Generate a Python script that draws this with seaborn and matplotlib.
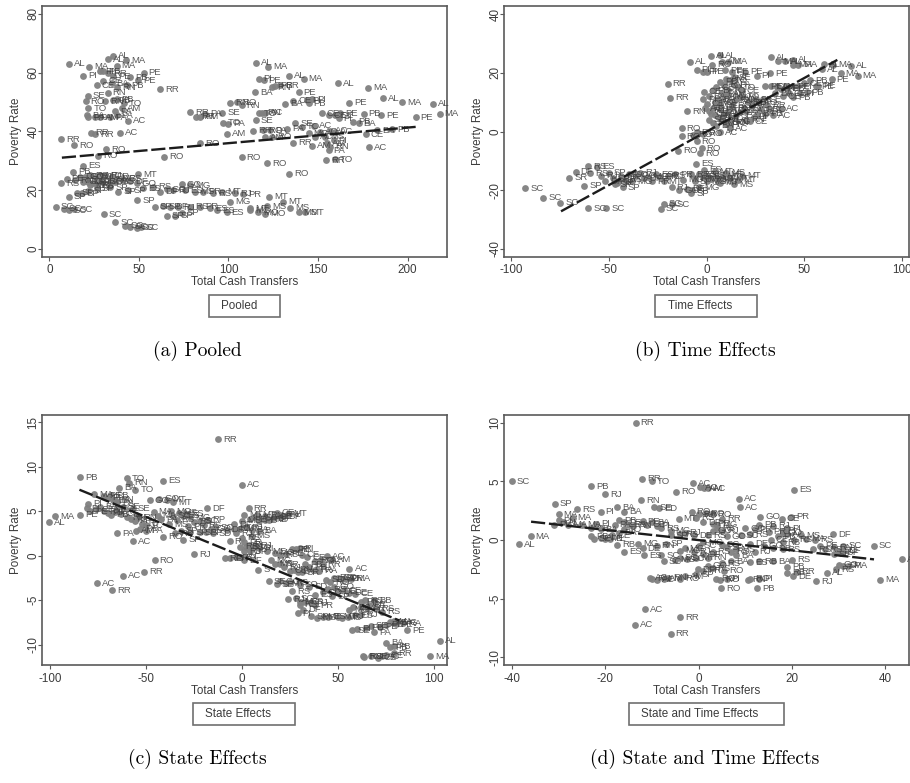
import matplotlib
import matplotlib.pyplot as plt
from matplotlib.patches import Rectangle
import seaborn as sns
import pandas as pd
# don't let matplotlib use xwindows
matplotlib.use('Agg')

sns.set_theme(style="ticks")
plt.rcParams['font.family'] = ['Liberation Sans', 'DejaVu Sans']

W, H = 910, 783
GREY = '#808080'
INK = '#3c3c3c'
FRAME = '#5a5a5a'

# (a) pooled
a_labels = """AL MA AL AL MA MA PI PI PB RR PE PE PB PE CE BA CE PB RR RN
SE RN RO RN PB PB TO TO PA AM BA PA PA AM PA PA AC RR RR AC
RR RO RO RO AL MA PI PE RN PB RR AL MA AL MA BA PE BA CE PI
PI PB PE AL MA AL MA PE PE PB RN RN RO RR RR AM PA SE TO PA
AM AC TO RN SE CE CE CE PI PE PB BA RR RO PA AM RO RR SE PA
TO AC MG AC AM AC MS AM PA RN AC PI AC CE AC BA PB RR TO RO
RO RO RO RO ES PB PE RS MT RN DF GO RS RJ MT RJ PR MG RS DF
GO DF RJ PR GO RS MG RS GO MS SP SP SP SP SP SP SP SP SP SP
SP ES RS DF GO RJ GO MG ES MS PR RS MT RJ PR MT MT MT MS MS
MS MT MO MO MG MG ES ES ES PR RS RJ DF SP SP SP SC SC SC SC
SC SC SC SC SC SC""".split()
a_x = [11, 22, 33, 35.8, 43, 37.6, 18.8, 28.3, 30, 33, 52.7, 49.7, 45, 35.8, 26.4, 34.8, 30.2, 43.2, 61.8, 32.6,
       21.4, 38, 20.3, 31, 35.8, 37.6, 41.7, 21.8, 36.7, 40.4, 21.2, 21.8, 25.5, 28.3, 33.9, 37.6, 44.1, 23, 25.5, 39.5,
       6.7, 14, 31.5, 27.4, 115.3, 122.3, 116.8, 119.6, 124.2, 126, 128.9, 134, 141.9, 161.3, 177.8, 114.9, 139.1, 131.7, 136.3, 143.8,
       146.5, 144.7, 167.4, 186, 196.8, 214.2, 217.9, 204.5, 185.3, 175.4, 100.9, 107.4, 105, 78.6, 81.8, 84.2, 87, 96.6, 96.8, 100,
       99, 120.5, 116.8, 118.7, 115.3, 152.1, 155.9, 159.6, 161.5, 162.4, 169.8, 172.6, 113.6, 119.2, 123.3, 120.5, 124.2, 136.3, 137.2, 132.6,
       141, 147.5, 144.7, 148.4, 146.9, 151.2, 154, 154.9, 155.9, 156.8, 156.8, 158.7, 159.6, 176.7, 178.2, 182.9, 191.2, 154.4, 159.6, 64.2,
       107.4, 121.4, 133.7, 84.2, 18.7, 13.4, 9.7, 6.5, 49.7, 14.3, 17.1, 19.9, 22.7, 25.5, 28.3, 31, 34.8, 37.6, 41.3, 45,
       19, 21.8, 24.6, 27.4, 30.2, 33.9, 22.7, 26.4, 48.8, 36.7, 11, 18, 15.3, 21.8, 26.4, 33.9, 38.5, 44.1, 49.2, 59,
       63.5, 52.5, 58.1, 61.8, 65.5, 69.3, 73.9, 78.6, 75.8, 81.3, 86, 91.6, 96.3, 103.7, 108, 122.7, 130.7, 112, 121.4, 134.4,
       139.1, 142.8, 116.4, 120.5, 112.1, 100.9, 99, 93.5, 89.8, 84.2, 78.6, 72, 67.4, 65.5, 70.2, 74, 3.7, 8.2, 11, 13.8,
       30.5, 36.7, 42.3, 45, 48.8, 51]
a_y = [63, 62, 64.6, 65.7, 64.3, 62.4, 59, 60.4, 60.4, 59.8, 60, 57.5, 58.4, 58.7, 55.8, 56.4, 57.2, 55.8, 54.4, 53.2,
       52.2, 55, 50.2, 50.2, 50.7, 51, 49.6, 47.9, 46.8, 47.9, 45.6, 44.8, 44.8, 44.8, 44.8, 45.6, 43.6, 39.6, 39, 39.6,
       37.4, 35.4, 33.9, 31.7, 63.3, 62, 57.9, 57.5, 55, 55.5, 55.8, 59, 57.9, 56.4, 54.9, 53.3, 53.3, 49.5, 50.4, 50.7,
       51, 49.6, 49.8, 51.3, 50, 49.5, 46.1, 44.9, 45.6, 46, 49.8, 49, 50, 46.6, 45, 45, 46, 46.4, 43, 42.6,
       39.2, 46.4, 46.2, 46.4, 43.9, 46.2, 45.6, 45.6, 44.5, 46.2, 43.3, 42.8, 40.2, 40.5, 40.5, 38, 38.2, 36.2, 42.8, 41,
       41.6, 41.9, 39.4, 38.2, 35.2, 39.9, 38.2, 36, 33.7, 34.8, 40.3, 37.1, 39.9, 39, 34.7, 40.5, 40.7, 30.2, 30.6, 31.4,
       31.3, 29.2, 25.6, 36, 28.4, 26.3, 24, 22.4, 25.4, 23.5, 24.6, 24.6, 25.2, 24.6, 25.2, 25, 24.6, 24, 24, 23,
       22.9, 22.9, 22.6, 22.9, 22.9, 22.9, 21.8, 21.8, 22.4, 22.9, 17.8, 19, 19.2, 19.9, 20.7, 21, 19.5, 20, 16.6, 14.4,
       14.6, 20.7, 21.2, 19.5, 20.3, 20.1, 22.1, 21.8, 20.1, 19.5, 19.5, 19, 19.5, 19, 18.6, 17.8, 16.1, 13.9, 14.6, 14,
       12.5, 12.5, 12.5, 12.1, 13.3, 16.1, 12.5, 13.3, 13.9, 14.4, 14.4, 14.2, 14.4, 11.3, 11.3, 12.3, 14.4, 13.8, 13.3, 13.5,
       11.9, 9.2, 7.9, 7.6, 7.3, 7.5]
a_fit_x = [7, 205]
a_fit_y = [31.1, 41.6]

# (b) time effects
b_labels = """AL AL AM MA AL PI PI PE RO PE PE PE PI PE AL MA AL AL MA MA
AL AL MA AL MA MA PE PE PB PB AC RR RR RN CE BA PB CE PB RN
AM TO SE RO BA PA AM RO GO RJ PA MG DF AM TO RN SE PA TO RO
AC SE TO CE RR RN CE PI BA PB PB TO AC AM CE TO PA RN PI PE
PI CE CE PE RO RJ GO MG RN AM TO PA PB AC SE RR BA PA AM TO
PE CE PI PE PB PE PI CE PB PE BA CE CE PI SC SC SC SC SC SC SC SC
SR DF SP RS RS ES RJ DF SP SP SP PR RS GO MG GO RJ DF MG PR
ES PR MT SP SP SP RS RJ PR GO MG DF SP RR ES PB MG RJ MT MS
MT MS MT ES ES RR SP SP MG MS MT MT MT MS MT MT RO RO RO RO RO RO RO RO
RO AC AC""".split()
b_x = [2, 6.8, 7.7, 11, -8.4, -5.1, -1.7, 0, 2.6, 9.4, 12.8, 19.6, 25.6, 32.4, 32.9, 36.7, 40.1, 44, 44.4, 47,
       60.2, 58.9, 64.8, 73.7, 68.6, 77.3, 64, 57.2, 51.2, 44.4, 37.9, -20, -18.9, -9.9, -1.4, 1, 3, 5, 7, 9,
       10, 12, 14, 4, 6, 8, 11, 13, 15, 1, 3, 5, 7, 9, 11, 13, 15, 17, 19, 21,
       23, 25, 27, 29, 31, 20, 22, 24, 26, 28, 30, 32, 34, 36, 18, 16, 14, 12, 10, 8,
       -2, 0, 2, 4, 6, 8, 10, 12, 14, 16, 18, 20, 22, -1, 1, 3, 5, 7, 9, 11,
       30, 33, 36, 38, 41, 44, 47, 50, 53, 56, 35, 39, 42, 48, -93, -83.6, -74.9, -60.6, -51.5, -22, -23.4, -18,
       -70.3, -67.1, -62.8, -60.6, -59.7, -56, -54, -52, -50, -48, -46, -44, -42, -40, -38, -36, -34, -32, -30, -28,
       -26, -24, -22, -47, -45, -43, -20, -18, -16, -14, -12, -10, -8, -6, -4, -2, 0, 2, 4, 6,
       8, 10, 12, -5.6, -1.4, -8, -6, -7.6, -4, 0, 5, 7, 9.6, 14, 16, 18, -12.8, -12.8, -6.8, -5.1, -1.7, -5.1, -14.5, -2.6,
       -3.4, 6.8, 11.9]
b_y = [25.9, 26, 23.8, 23.8, 23.7, 21, 20.4, 20.4, 22.7, 20.8, 20.4, 20.4, 19, 19.9, 25.3, 24, 24, 24.4, 22.7, 22.7,
       22.9, 21.2, 22.7, 22.4, 19.9, 19, 17.8, 15.6, 13.4, 11.7, 7.7, 16.2, 11.5, 6.9, 13.6, 12, 14, 15, 17, 16,
       18, 17.5, 18.5, 10, 11, 13, 12.5, 9, 11, 7, 8, 10, 9, 6, 7, 8, 5.5, 6.5, 8, 10,
       9, 11, 10, 11, 9, 4, 3.5, 5, 6, 7.5, 6, 7.6, 5.5, 15.5, 14, 15, 16, 3, 2.5, 4,
       11, 9.5, 6, 5.5, 5, 4.5, 3, 3.5, 10.5, 11.5, 12, 7, 10, 8, 4, 3, 2, 7.5, 12, 14,
       15.5, 15.5, 15, 14.5, 14.5, 15.5, 15.5, 16.5, 17.5, 15.5, 13, 12, 13, 13, -19.3, -22.5, -24.2, -26.1, -26.2, -24.6, -26.4, -24.8,
       -15.7, -13.8, -18.5, -11.9, -14.2, -12, -15, -17, -14, -16, -17.5, -15, -16.5, -14.5, -17, -15, -14, -16, -15.5, -17,
       -14.5, -15.5, -17, -18, -17, -19, -15, -19, -14.5, -20, -16.5, -19.5, -21, -16, -14.5, -15.5, -17, -16.2, -13.5, -17,
       -15.5, -14, -16, -11, -13, -14.5, -17, -20, -19, -15, -16, -17.5, -14.5, -18, -16.5, -15, 1.1, -1.7, -1.1, -0.3, -0.8, -3.4, -6.6, -5.7,
       -7.4, -0.2, 1.1]
b_fit_x = [-74.6, 66.9]
b_fit_y = [-27.2, 24.4]

# (c) state effects
c_labels = """RR PB TO RN BA TO ES AC MA AL PE DF MA PE PI BA PA PB RN PI
PI PE CE BA RN PI PB PA TO CE RN TC PI SE SE RN TC TC GO GO
MT MT MA MA PA PA AC AM PA PA RO SP RJ RO RR AC AC RR MS ES
ES MG RS SC MS MG PR RS SC RS RP GO SC RS SP SP SP SP SD DF
R DF RJ MT RJ MS MT RR MS MT PE PE RN RO CE CE RN DF MT RN
DF RJ BA BA MS RS PR RS RJ RI RJ GO RJ DF RI RO PR RO RJ DF
S ME MG RS PE PE RI RI CE CE RO PA AC AM RA PB PB RR RJ CE
RN BA SR RA AC MS RR MG SE SE GO MT RS SO SD SD RO RO GO SD
PR MA GO RS DE CE DE CE GO ES SP RS RJ SC MG RS RJ PR RS DF
PI SP MS MT ES MT MS RJ ES RJ ES MG MS PR PR RS PR BB RS RS
MA MG PE PE SE PB PI SE PA PE BA PB PB RR RN RO SE CE AC CE
MA AL PE PE RA""".split()
c_x = [-12.5, -84.5, -60, -59, -64, -55.5, -41, 0, -97.5, -100.5, -84.5, -18, -77, -72, -70, -67, -65, -68, -66, -80,
       -81, -79, -76, -74, -72, -70, -68, -66, -65, -63, -60, -58, -56, -62, -57, -54, -52, -50, -48, -43,
       -39, -36, -46, -44, -42, -65, -57, -55, -53, -50, -41, -30.5, -25, -45.5, -51, -62, -75.5, -67.5, -33, -31,
       -29, -27, -34, -36, -38, -37, -28, -25, -22, -20, -18, -16, -14, -35, -32, -27, -22, -19, -15, -8,
       -6.5, -4, -4, -1, -3, 0, 1, 3.5, 6, 8, 4, 9, 12, 14, 17, 18, 20, 21.5, 24, 12,
       16, 2, 5, 9, 5, 0, 1, -1, 2, 3.5, 1, 5, 7, 4, 9, -9, -6, -3, -1, 1,
       8.5, 13, 17, 20, 23, 26, 28, 30, 31, 34, 38, 41, 44.5, 47, 38, 35, 33, 42, 22, 25,
       27, 29, 31, 40, 56, 17, 20, 15, 14, 18, 20, 23, 25, 30, 35, 44, 46, 48, 50, 52,
       54, 57, 48, 45, 50, 53, 56, 59, 42, 38, 47, 26, 24, 28, 30, 33, 36, 38, 30, 32,
       29, 36, 39, 42, 45, 50, 52, 55, 59, 62, 58, 56, 62, 65, 62, 64, 66, 69, 70, 73,
       79, 81, 77, 75, 67, 64.5, 60, 57.5, 69, 86, 75, 77, 79, 79, 63, 63.5, 67, 71, 73, 75,
       98, 103, 72, 80, 84]
c_y = [13.1, 8.8, 8.7, 8.2, 7.6, 7.4, 8.4, 7.95, 4.4, 3.75, 4.6, 5.3, 6.9, 6.7, 6.5, 6.2, 6, 6.8, 6.3, 5.8,
       5.3, 5, 5.2, 5.5, 5, 4.8, 4.6, 4.9, 5.3, 4.7, 4.3, 4.1, 3.9, 5.5, 5.3, 4.3, 3.6, 3.4, 6.2, 6.4,
       6.3, 6, 4.9, 4.5, 4.1, 2.5, 1.6, 2.8, 3, 2.8, 2.1, 1.8, 0.15, -0.5, -1.8, -2.25, -3.1, -3.9, 4.8, 4.5,
       4.7, 4.3, 4, 4.5, 3.5, 5, 3.3, 3.8, 3.9, 3.4, 4, 3, 3.2, 2.5, 2.8, 2.6, 2.6, 2.6, 2.5, 2.9,
       1.6, 3.5, 3, 3, 2.5, 3.9, 4.6, 5.3, 4.3, 4.6, 4.1, 3.9, 4.5, 4, 4.4, 4.8, 4.6, 4.4, 4.7, 4,
       4.2, 3.2, 2.9, 2.8, 2.2, 2, 1.5, 1, 1, 1.2, 0.5, 0.9, 1.1, 0.5, 0.8, -0.3, -0.3, -0.2, -0.2, -0.5,
       -1.6, 0.5, 0.3, 0.1, 0.2, 0.7, 0.7, 0.8, 0.1, -0.2, -0.6, -0.5, -0.1, -0.4, -1.6, -1.3, -1, -1, -1.3, -1.7,
       -1.6, -1.8, -1.9, -1.7, -1.5, -0.9, -1, -0.5, -2.9, -3.2, -2.9, -3.1, -3, -3.3, -3.5, -2.7, -3, -2.5, -2.5, -2.6,
       -2.6, -2.6, -3.5, -3.8, -4, -3.9, -4.2, -4.3, -4.1, -4.4, -4.6, -4, -4.9, -4.8, -5.2, -5.2, -5.3, -5.6, -5.5, -6.1,
       -6.5, -6.8, -7, -6.9, -6.9, -6.9, -7, -6.9, -6.7, -6.6, -5.8, -6.1, -5.8, -5.9, -5.2, -5, -5.5, -5.1, -6, -6.3,
       -7.4, -7.5, -7.5, -7.8, -7.9, -8.1, -8.2, -8.4, -8.6, -8.4, -9.8, -10.3, -10.2, -11, -11.3, -11.4, -11.3, -11.5, -11.3, -11.2,
       -11.3, -9.6, -8, -7.7, -7.6]
c_fit_x = [-84.7, 82]
c_fit_y = [7.4, -7.3]

# (d) state and time effects
d_labels = """RR SC PB RJ RR TO AC AC AM AC RO ES AC AC RN SP RS PI BA BA
SE ED MA PI AL MA PI MA MA CE PI BA PB SE AL PE AL CE BA PA
PB CE TO RS RN PE CE BA PI RS RB ES MG DE ES SC SC MG SC SC
RN SP SP MG RS RJ DE MG RJ SC MG RS MT RO RR RO RO RR RS DF
PR MG GO RS RJ MT DF RN RS SC GO SP RS BA SC GO RS DE PR PB
RJ GO PR RJ CE PB GO RS BA RS ES RB BA RS RS PR SP DF GO RO
AC RN AC AM RN RO AM RO RO PI RN RO PI RO PB PB RB DE RR RJ
AL RS GO SP MA MA AL SC DF MS MA RS PE RS RN SC DF SC DF SE
RS PR CE PI PI AC GO RS RB DE AC AC RR RR AL MA MG MS""".split()
d_x = [-13.5, -40, -23, -20, -12.1, -10, -1.2, 0.4, 1.2, 2, -4.8, 20.5, 8.7, 8.8, -12.3, -30.8, -26, -21, -17.5, -16,
       -9.5, -8.5, -30, -30, -29, -28, -31, -27, -25, -23, -22, -21, -23, -22.5, -21, -20, -19, -18.5, -17, -18,
       -17, -16, -16, -15, -14, -12, -11, -10, -9, -8, -17.5, -16, -13, -12, -11.7, -8, -7.5, -5, -4, -2.5,
       -9, -7, -6, -6, -4, -3, -1, -3, -1, 0, 1, 2, -4.3, -1.5, 0, 1.5, 3, 5, -0.5, 1,
       3, 4, 3, 4, 5, -0.5, 1, 2, 3, 5, 6, 6, 7, 8, 9, 10, 11, 11, 12, 13,
       12, 14, 15, 16, 15.5, 17, 18, 18, 16, 20, 11, 13, 7, 5, 3, 1, -0.5, -0.2, 2, 5.5,
       -10.5, -10, -9, -7.5, -6.5, -4, -3, 3.8, 4.7, 6, 10.5, 11, 13, 4.8, 12.5, 19, 19, 20.3, 21, 25.2,
       27.5, 29.5, 30, 31, 32, 38.9, 43.7, 37.5, 28.9, 22, 23, 25, 26, 27, 29, 30, 30.5, 31, 31, 29,
       24.5, 19.8, 17.8, 19, 18, 19, 13.2, 20.5, 18, 16, -11.5, -13.6, -4, -6, -38.5, -36, -4, 8]
d_y = [10, 5, 4.6, 3.9, 5.2, 5, 4.85, 4.5, 4.4, 4.4, 4.1, 4.3, 3.5, 2.8, 3.4, 3.1, 2.6, 2.4, 2.8, 2.4,
       2.8, 2.7, 2.2, 1.7, 1.5, 1.3, 1.3, 1.9, 1.3, 1, 1.4, 0.9, 0.3, 0.1, 0.2, 0.1, 0.1, 0.4, 0.6, 1.3,
       1.7, 1.5, 0.9, 1.3, 1.2, 1.6, 1.3, 1.5, 1.2, 1, -0.4, -1, -0.3, -0.7, -1.3, -1.3, -1.8, -1.7, -1.5, -1.6,
       -0.5, -0.3, 0.4, 0.8, 0.5, 0.6, 0.4, -0.7, -1, -0.5, -0.2, 0.4, 1.8, 2.4, 2.2, 2.3, 2.2, 1.8, 1.9, 1.5,
       1.4, 1.3, 0.8, 1, 0.8, -1.5, -1.2, -1.5, -1, -0.4, 0.3, -0.6, -1, -1.3, 0.4, 1, 0.5, -0.3, 0.9, 1.3,
       -1, -0.5, 0.7, 1.2, 0, 0.3, 0.6, -0.8, -1.8, -1.7, -1.9, -1.8, -1.8, -2, -2.4, -2.6, -2.9, -2.5, -2.2, -2.6,
       -3.2, -3.3, -3.4, -3.3, -3.2, -3.3, -3.1, -3.3, -3.4, -3.3, -3.4, -3.3, -3.3, -4.1, -4.1, -2.3, -2.8, -3.1, -2.7, -3.5,
       -2.8, -2.5, -2.1, -2.2, -2.2, -3.4, -1.65, -0.5, 0.5, 0.4, 0.1, 0, -0.5, -0.8, -0.6, -0.9, -1.1, -0.5, -0.9, -1.2,
       -0.8, 2, 1.8, 1, 0.8, 0.5, 2, 0, -0.2, -0.7, -5.9, -7.2, -6.6, -8, -0.35, 0.3, -0.9, -0.8]
d_fit_x = [-35.9, 37.6]
d_fit_y = [1.56, -1.65]

a_xticks, a_yticks = [0, 50, 100, 150, 200], [0, 20, 40, 60, 80]
b_xticks, b_yticks = [-100, -50, 0, 50, 100], [-40, -20, 0, 20, 40]
c_xticks, c_yticks = [-100, -50, 0, 50, 100], [-10, -5, 0, 5, 10, 15]
d_xticks, d_yticks = [-40, -20, 0, 20, 40], [-10, -5, 0, 5, 10]

legend_names = ['Pooled', 'Time Effects', 'State Effects', 'State and Time Effects']
captions = ['(a) Pooled', '(b) Time Effects', '(c) State Effects', '(d) State and Time Effects']


def make_axes(fig, left, top, right, bottom):
	return fig.add_axes([left / W, 1 - bottom / H, (right - left) / W, (bottom - top) / H])


def plot_panel(ax, labels, xs, ys, fit_x, fit_y, xticks, yticks, xlim, ylim):
	data = pd.DataFrame({'state': labels, 'x': xs, 'y': ys})
	sns.scatterplot(data=data, x='x', y='y', color=GREY, s=24, linewidth=0, alpha=0.95, ax=ax, zorder=2)
	# state code right of each marker
	for row in data.itertuples():
		ax.annotate(row.state, (row.x, row.y), xytext=(3.6, 0), textcoords='offset points',
			va='center', ha='left', fontsize=6.8, color=INK, alpha=0.85, zorder=3)
	fit = pd.DataFrame({'x': fit_x, 'y': fit_y})
	sns.lineplot(data=fit, x='x', y='y', color='#1c1c1c', linewidth=1.7, linestyle=(0, (6, 1.6)), ax=ax, zorder=4)
	ax.set_xlim(xlim)
	ax.set_ylim(ylim)
	ax.set_xticks(xticks)
	ax.set_yticks(yticks)
	ax.set_xticklabels([str(t) for t in xticks])
	ax.set_yticklabels([str(t) for t in yticks], rotation=90, va='center')
	ax.set_xlabel('Total Cash Transfers', fontsize=8.4, color=INK, labelpad=0)
	ax.set_ylabel('Poverty Rate', fontsize=8.4, color=INK, labelpad=4)
	ax.tick_params(length=3.2, width=0.8, color=FRAME, labelcolor=INK, labelsize=8.4)
	ax.tick_params(axis='x', pad=2.5)
	ax.tick_params(axis='y', pad=-1.5)
	for s in ax.spines.values():
		s.set_visible(True)
		s.set_color(FRAME)
		s.set_linewidth(1.2)


def add_key(fig, name, left, right, top, bottom, text_x):
	fig.add_artist(Rectangle((left / W, 1 - bottom / H), (right - left) / W, (bottom - top) / H,
		transform=fig.transFigure, facecolor='white', edgecolor='#707070', linewidth=1.2))
	fig.text(text_x / W, 1 - (top + bottom) / 2 / H, name, fontsize=8.4, color=INK, va='center', ha='left')


def main():
	fig = plt.figure(figsize=(W / 100, H / 100), dpi=100)

	ax = make_axes(fig, 42, 6.5, 447, 256.5)
	plot_panel(ax, a_labels, a_x, a_y, a_fit_x, a_fit_y, a_xticks, a_yticks, (-4.1, 222), (-2.5, 82.5))
	ax = make_axes(fig, 504, 6.5, 909, 256.5)
	plot_panel(ax, b_labels, b_x, b_y, b_fit_x, b_fit_y, b_xticks, b_yticks, (-103.8, 103.6), (-42.6, 42.6))
	ax = make_axes(fig, 42, 415, 447, 665)
	plot_panel(ax, c_labels, c_x, c_y, c_fit_x, c_fit_y, c_xticks, c_yticks, (-104.2, 106.8), (-12.3, 15.8))
	ax = make_axes(fig, 504, 415, 909, 665)
	plot_panel(ax, d_labels, d_x, d_y, d_fit_x, d_fit_y, d_xticks, d_yticks, (-41.7, 45.1), (-10.65, 10.65))

	add_key(fig, legend_names[0], 209, 280, 295, 316.5, 221)
	add_key(fig, legend_names[1], 655, 757, 295, 316.5, 668)
	add_key(fig, legend_names[2], 193, 295, 703, 724.5, 205)
	add_key(fig, legend_names[3], 628.5, 784, 703, 724.5, 641)

	# subfigure captions, computer modern like the paper
	for text, x, y in zip(captions, [197, 705, 197, 705], [351, 351, 759, 759]):
		fig.text(x / W, 1 - y / H, text, family='cmr10', fontsize=14, color='black', ha='center', va='center')

	fig.savefig('out.png', dpi=100)
	plt.close(fig)


if __name__ == '__main__':
	main()
